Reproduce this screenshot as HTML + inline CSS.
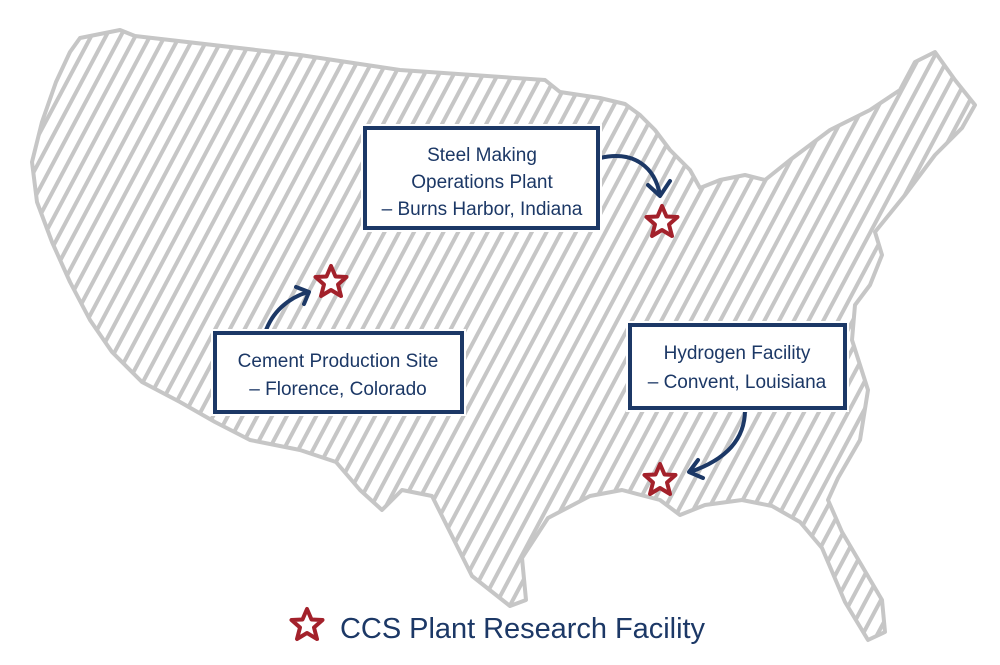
<!DOCTYPE html>
<html><head><meta charset="utf-8"><style>
html,body{margin:0;padding:0;background:#fff;}
svg{display:block}
text{font-family:"Liberation Sans Narrow","Liberation Sans",sans-serif;fill:#1c3866;}
</style></head><body>
<svg width="1000" height="665" viewBox="0 0 1000 665" xmlns="http://www.w3.org/2000/svg">
<defs>
<pattern id="h" width="13" height="13" patternUnits="userSpaceOnUse" patternTransform="rotate(28)">
<line x1="6.5" y1="0" x2="6.5" y2="13" stroke="#c6c6c6" stroke-width="4"/>
</pattern>
<clipPath id="us"><path id="usp" d="M80,38 L120,30 L135,36 L300,55 L400,70 L545,80 L560,92 L600,98 L625,104 L640,115 L655,130 L670,150 L690,170 L700,188 L720,180 L745,175 L765,180 L790,160 L830,130 L870,110 L900,90 L915,62 L935,52 L955,80 L975,105 L962,128 L935,155 L905,195 L875,232 L882,255 L870,285 L855,305 L852,340 L868,390 L860,440 L838,478 L828,500 L842,532 L862,566 L882,600 L885,632 L868,640 L845,602 L822,548 L800,522 L772,506 L742,500 L705,505 L680,515 L660,500 L622,490 L590,496 L548,518 L522,558 L526,600 L510,606 L472,576 L452,536 L432,496 L402,490 L382,510 L360,490 L336,462 L300,450 L250,440 L215,422 L180,402 L142,382 L112,352 L90,320 L70,282 L52,242 L37,202 L32,162 L42,122 L56,82 L70,52 Z"/></clipPath>
</defs>
<rect x="0" y="0" width="1000" height="665" fill="url(#h)" clip-path="url(#us)"/>
<use href="#usp" fill="none" stroke="#c6c6c6" stroke-width="4" stroke-linejoin="round"/>

<g stroke="#1c3866" stroke-width="4" fill="none" stroke-linecap="round" stroke-linejoin="round">
<path d="M600,158 C635,150 655,168 660,195"/>
<path d="M648,185 L660,196 L670,181"/>
<path d="M265,333 C272,312 288,298 308,292"/>
<path d="M296,287 L309,292 L304,304"/>
<path d="M745,410 C745,440 725,460 690,472"/>
<path d="M698,460 L689,472 L703,478"/>
</g>

<g fill="#fff" stroke="#fff" stroke-width="8">
<rect x="365" y="128" width="233" height="100"/>
<rect x="215" y="333" width="247" height="79"/>
<rect x="630" y="325" width="215" height="83"/>
</g>
<g fill="#fff" stroke="#1c3866" stroke-width="4">
<rect x="365" y="128" width="233" height="100"/>
<rect x="215" y="333" width="247" height="79"/>
<rect x="630" y="325" width="215" height="83"/>
</g>
<g font-size="19" text-anchor="middle">
<text x="482" y="161">Steel Making</text>
<text x="482" y="188">Operations Plant</text>
<text x="482" y="215">– Burns Harbor, Indiana</text>
<text x="338" y="367">Cement Production Site</text>
<text x="338" y="395">– Florence, Colorado</text>
<text x="737" y="359">Hydrogen Facility</text>
<text x="737" y="388">– Convent, Louisiana</text>
</g>

<g fill="#fff" stroke="#a3212b" stroke-width="4" stroke-linejoin="round">
<path id="st" d="M0,-16 L4.5,-5.5 L15.5,-5 L7,2.5 L10,14 L0,8 L-10,14 L-7,2.5 L-15.5,-5 L-4.5,-5.5 Z" transform="translate(331,282)"/>
<use href="#st" transform="translate(331,-60)"/>
<use href="#st" transform="translate(329,198)"/>
<use href="#st" transform="translate(-24,343)"/>
</g>
<text x="340" y="638" font-size="29" textLength="365" style="fill:#1c3866">CCS Plant Research Facility</text>
</svg>
</body></html>
